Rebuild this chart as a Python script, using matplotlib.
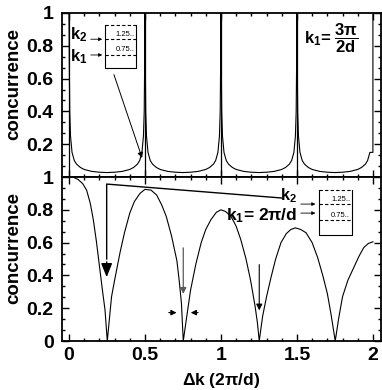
"""
Concurrence vs detuning: two stacked panels (k1 = 3pi/2d on top, k1 = 2pi/d below)
"""
import matplotlib
matplotlib.use('Agg')
import matplotlib.pyplot as plt
from matplotlib.ticker import MultipleLocator

plt.rcParams['font.family'] = ['Liberation Sans', 'DejaVu Sans']
plt.rcParams['font.weight'] = 'bold'
plt.rcParams['mathtext.fontset'] = 'custom'
plt.rcParams['mathtext.rm'] = 'Liberation Sans:bold'
plt.rcParams['mathtext.it'] = 'Liberation Sans:bold'
plt.rcParams['mathtext.bf'] = 'Liberation Sans:bold'

# top panel: k1 = 3pi/2d  (sharp resonances at half-integer dk)
top_dk = [0.0, 0.002, 0.005, 0.01, 0.02, 0.035, 0.05, 0.075, 0.1, 0.15, 0.2, 0.25,
          0.3, 0.35, 0.4, 0.425, 0.45, 0.465, 0.48, 0.49, 0.495, 0.498,
          0.5, 0.502, 0.505, 0.51, 0.52, 0.535, 0.55, 0.575, 0.6, 0.65, 0.7, 0.75,
          0.8, 0.85, 0.9, 0.925, 0.95, 0.965, 0.98, 0.99, 0.995, 0.998,
          1.0, 1.002, 1.005, 1.01, 1.02, 1.035, 1.05, 1.075, 1.1, 1.15, 1.2, 1.25,
          1.3, 1.35, 1.4, 1.425, 1.45, 1.465, 1.48, 1.49, 1.495, 1.498,
          1.5, 1.502, 1.505, 1.51, 1.52, 1.535, 1.55, 1.575, 1.6, 1.65, 1.7, 1.75,
          1.8, 1.85, 1.9, 1.925, 1.95, 1.965, 1.98, 2.0, 2.0]
top_conc = [1.0, 0.7, 0.4, 0.25, 0.15, 0.10, 0.078, 0.058, 0.046, 0.034, 0.029, 0.027,
            0.029, 0.034, 0.046, 0.058, 0.078, 0.10, 0.15, 0.25, 0.4, 0.7,
            1.0, 0.7, 0.4, 0.25, 0.15, 0.10, 0.078, 0.058, 0.046, 0.034, 0.029, 0.027,
            0.029, 0.034, 0.046, 0.058, 0.078, 0.10, 0.15, 0.25, 0.4, 0.7,
            1.0, 0.7, 0.4, 0.25, 0.15, 0.10, 0.078, 0.058, 0.046, 0.034, 0.029, 0.027,
            0.029, 0.034, 0.046, 0.058, 0.078, 0.10, 0.15, 0.25, 0.4, 0.7,
            1.0, 0.7, 0.4, 0.25, 0.15, 0.10, 0.078, 0.058, 0.046, 0.034, 0.029, 0.027,
            0.029, 0.034, 0.046, 0.058, 0.078, 0.10, 0.15, 0.15, 0.99]
spike_dk = [0.0, 0.5, 1.0, 1.5]

# bottom panel: k1 = 2pi/d
bot_dk = [0.0, 0.03, 0.06, 0.09, 0.116, 0.14, 0.16, 0.18, 0.204, 0.22, 0.237, 0.252,
          0.28, 0.30, 0.336, 0.365, 0.40, 0.43, 0.467, 0.5, 0.54, 0.577, 0.61, 0.64,
          0.675, 0.71, 0.725, 0.74, 0.752,
          0.775, 0.80, 0.835, 0.87, 0.90, 0.934, 0.97, 1.0, 1.03, 1.066, 1.10, 1.13,
          1.165, 1.195, 1.225, 1.24, 1.252,
          1.274, 1.30, 1.33, 1.36, 1.395, 1.43, 1.46, 1.49, 1.525, 1.56, 1.60, 1.636,
          1.67, 1.70, 1.725, 1.752,
          1.775, 1.80, 1.835, 1.875, 1.91, 1.94, 1.97, 2.0]
bot_conc = [1.0, 0.998, 0.985, 0.96, 0.92, 0.84, 0.74, 0.61, 0.43, 0.31, 0.19, 0.0,
            0.27, 0.37, 0.54, 0.66, 0.78, 0.85, 0.90, 0.925, 0.92, 0.89, 0.83, 0.76,
            0.64, 0.49, 0.37, 0.23, 0.0,
            0.15, 0.31, 0.47, 0.60, 0.68, 0.74, 0.785, 0.80, 0.79, 0.76, 0.70, 0.62,
            0.50, 0.37, 0.21, 0.11, 0.0,
            0.15, 0.27, 0.39, 0.50, 0.60, 0.655, 0.68, 0.69, 0.68, 0.66, 0.60, 0.51,
            0.40, 0.29, 0.16, 0.0,
            0.14, 0.27, 0.37, 0.45, 0.52, 0.57, 0.595, 0.605]

xticks = [0, 0.5, 1, 1.5, 2]
xtick_labels = ['0', '0.5', '1', '1.5', '2']
yticks = [0, 0.2, 0.4, 0.6, 0.8, 1.0]
ytick_labels = ['0', '0.2', '0.4', '0.6', '0.8', '1']

fig = plt.figure(figsize=(3.82, 3.90), dpi=100)
ax1 = fig.add_axes([0.1623, 0.5462, 0.835, 0.4205])
ax2 = fig.add_axes([0.1623, 0.1256, 0.835, 0.4205])

for ax in (ax1, ax2):
    ax.set_xlim(-0.046, 2.053)
    ax.set_ylim(0, 1)
    ax.set_xticks(xticks)
    ax.set_yticks(yticks)
    ax.xaxis.set_minor_locator(MultipleLocator(0.1))
    ax.yaxis.set_minor_locator(MultipleLocator(0.2 / 3))
    ax.tick_params(which='both', direction='in', top=True, right=True, width=1)
    ax.tick_params(which='major', length=5, labelsize=14, pad=6)
    ax.tick_params(which='minor', length=2.5)
    for s in ax.spines.values():
        s.set_linewidth(1.3)
    ax.set_ylabel('concurrence', fontsize=13.5, fontweight='bold')
    ax.yaxis.set_label_coords(-0.125, 0.57)

ax1.set_xticklabels([])
ax1.set_yticklabels(['', '0.2', '0.4', '0.6', '0.8', '1'])
ax2.set_xticklabels(xtick_labels)
ax2.set_yticklabels(ytick_labels)
ax2.tick_params(axis='x', pad=4)
ax2.set_xlabel(r'$\Delta$k (2$\pi$/d)', fontsize=12.5, fontweight='bold', labelpad=5)

# --- top panel
ax1.plot(top_dk, top_conc, color='black', lw=0.8)
ax1.vlines(spike_dk, 0, 1, color='black', lw=0.9)

# inset of the two levels
ax1.plot([0.24, 0.24, 0.44, 0.44], [0.927, 0.665, 0.665, 0.927], color='black', lw=0.8)
for yv in (0.927, 0.84, 0.744):
    ax1.plot([0.24, 0.44], [yv, yv], color='black', lw=0.8, ls=(0, (3, 2)))
ax1.text(0.43, 0.866, '1.25..', fontsize=5.5, fontweight='normal', ha='right', va='center')
ax1.text(0.43, 0.78, '0.75..', fontsize=5.5, fontweight='normal', ha='right', va='center')
ax1.text(0.005, 0.865, r'$\mathbf{k}_\mathbf{2}$', fontsize=12, va='center')
ax1.text(0.005, 0.735, r'$\mathbf{k}_\mathbf{1}$', fontsize=12, va='center')
for yv in (0.84, 0.744):
    ax1.annotate('', xy=(0.237, yv), xytext=(0.125, yv),
                 arrowprops=dict(arrowstyle='-|>', color='black', lw=0.6, mutation_scale=5))
ax1.annotate('', xy=(0.487, 0.10), xytext=(0.29, 0.64),
             arrowprops=dict(arrowstyle='-|>', color='black', lw=0.7, mutation_scale=8))
ax1.text(1.545, 0.845, r'$\mathbf{k}_\mathbf{1}$= $\dfrac{3\pi}{2d}$', fontsize=12,
         va='center', ha='left')

# --- bottom panel
ax2.plot(bot_dk, bot_conc, color='black', lw=0.8)

ax2.plot([1.40, 0.248, 0.248], [0.872, 0.957, 0.5], color='black', lw=1.0)
ax2.annotate('', xy=(0.248, 0.372), xytext=(0.248, 0.5),
             arrowprops=dict(arrowstyle='-|>,head_length=0.7,head_width=0.28',
                             color='black', lw=1.0, mutation_scale=12))
ax2.annotate('', xy=(0.752, 0.27), xytext=(0.752, 0.585),
             arrowprops=dict(arrowstyle='-|>', color='0.35', lw=0.9, mutation_scale=9))
ax2.annotate('', xy=(0.726, 0.173), xytext=(0.638, 0.173),
             arrowprops=dict(arrowstyle='-|>', color='black', lw=0.8, mutation_scale=8))
ax2.annotate('', xy=(0.783, 0.173), xytext=(0.868, 0.173),
             arrowprops=dict(arrowstyle='-|>', color='black', lw=0.8, mutation_scale=8))
ax2.annotate('', xy=(1.252, 0.17), xytext=(1.252, 0.483),
             arrowprops=dict(arrowstyle='-|>', color='black', lw=0.8, mutation_scale=9))

ax2.plot([1.645, 1.645, 1.862, 1.862], [0.92, 0.646, 0.646, 0.92], color='black', lw=0.8)
for yv in (0.92, 0.835, 0.738):
    ax2.plot([1.645, 1.862], [yv, yv], color='black', lw=0.8, ls=(0, (3, 2)))
ax2.text(1.85, 0.862, '1.25..', fontsize=5.5, fontweight='normal', ha='right', va='center')
ax2.text(1.85, 0.768, '0.75..', fontsize=5.5, fontweight='normal', ha='right', va='center')
ax2.text(1.50, 0.885, r'$\mathbf{k}_\mathbf{2}$', fontsize=11.5, ha='right', va='center')
ax2.text(1.50, 0.765, r'$\mathbf{k}_\mathbf{1}$= 2$\pi$/d', fontsize=12.5, ha='right', va='center')
for yv in (0.835, 0.78):
    ax2.annotate('', xy=(1.64, yv), xytext=(1.507, yv),
                 arrowprops=dict(arrowstyle='-|>', color='black', lw=0.6, mutation_scale=5))

fig.savefig('out.png', dpi=100)
plt.close(fig)
